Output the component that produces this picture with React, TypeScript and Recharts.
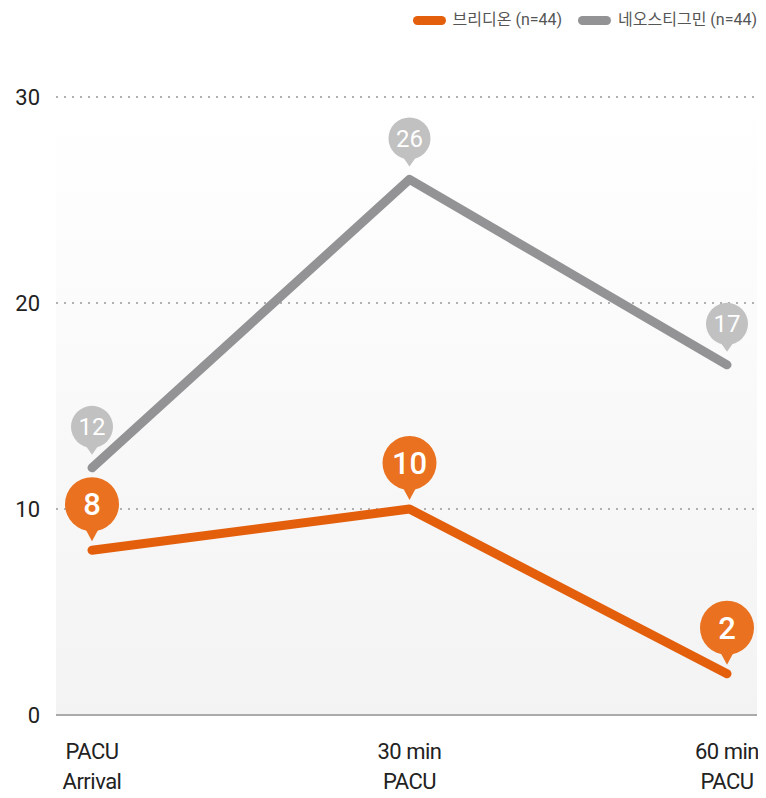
import {
  LineChart,
  Line,
  XAxis,
  YAxis,
  CartesianGrid,
  LabelList,
} from 'recharts'

const categories = ['PACU\nArrival', '30 min\nPACU', '60 min\nPACU']
const bridionValues = [8, 10, 2]
const neostigmineValues = [12, 26, 17]
const yTicks = [0, 10, 20, 30]

const ORANGE = '#e35f0c'
const ORANGE_PIN = '#e9711f'
const GRAY = '#939396'
const GRAY_PIN = '#c1c1c1'
const FONT = 'Roboto, "Noto Sans CJK KR", sans-serif'

const data = categories.map((name, i) => ({
  name,
  bridion: bridionValues[i],
  neo: neostigmineValues[i],
}))

const legendItems = [
  { label: '브리디온 (n=44)', color: ORANGE },
  { label: '네오스티그민 (n=44)', color: GRAY },
]

function LegendBox() {
  return (
    <div
      style={{
        position: 'absolute',
        top: 10,
        right: 9,
        display: 'flex',
        gap: 16,
        fontFamily: FONT,
        fontSize: 16,
        color: '#555',
        lineHeight: '20px',
      }}
    >
      {legendItems.map(item => (
        <div key={item.label} style={{ display: 'flex', alignItems: 'center', gap: 7 }}>
          <span style={{ display: 'inline-block', width: 33, height: 9, borderRadius: 5, background: item.color }} />
          <span>{item.label}</span>
        </div>
      ))}
    </div>
  )
}

function XTick(props: any) {
  const { x, y, payload } = props
  const lines = String(payload.value).split('\n')
  return (
    <text x={x} y={y} textAnchor="middle" fill="#222" fontSize={22} fontFamily={FONT} style={{ letterSpacing: -0.5 }}>
      {lines.map((l, i) => (
        <tspan key={i} x={x} dy={i === 0 ? 36 : 30}>{l}</tspan>
      ))}
    </text>
  )
}

function pin(big: boolean) {
  return (props: any) => {
    const { x, y, value } = props
    const r = big ? 27 : 21
    const cy = y - (big ? 46 : 41)
    const tip = y - (big ? 9 : 13)
    const color = big ? ORANGE_PIN : GRAY_PIN
    return (
      <g>
        <path d={`M${x - 7},${cy + r - 3} L${x},${tip} L${x + 7},${cy + r - 3} Z`} fill={color} />
        <circle cx={x} cy={cy} r={r} fill={color} />
        <text
          x={x}
          y={cy}
          dy="0.36em"
          textAnchor="middle"
          fill="#fff"
          fontFamily={FONT}
          fontSize={big ? 31 : 24}
          fontWeight={big ? 500 : 400}
        >
          {value}
        </text>
      </g>
    )
  }
}

export default function App() {
  return (
    <div style={{ margin: -8, width: 766, height: 798, background: '#fff', position: 'relative' }}>
      <LegendBox />
      <LineChart width={766} height={798} data={data} margin={{ top: 97, right: 9, left: 0, bottom: 0 }}>
        <defs>
          <linearGradient id="bgGrad" x1="0" y1="0" x2="0" y2="1">
            <stop offset="0%" stopColor="#ffffff" />
            <stop offset="100%" stopColor="#f3f3f3" />
          </linearGradient>
        </defs>
        <CartesianGrid
          vertical={false}
          fill="url(#bgGrad)"
          stroke="#b0b0b0"
          strokeWidth={2}
          strokeDasharray="2 6"
        />
        <XAxis
          dataKey="name"
          height={83}
          padding={{ left: 36, right: 30 }}
          axisLine={{ stroke: '#aaa', strokeWidth: 2 }}
          tickLine={false}
          tick={<XTick />}
          interval={0}
        />
        <YAxis
          width={56}
          domain={[0, 30]}
          ticks={yTicks}
          axisLine={false}
          tickLine={false}
          tick={{ fontSize: 22, fill: '#222', fontFamily: FONT }}
          tickMargin={10}
        />
        <Line
          type="linear"
          dataKey="neo"
          stroke={GRAY}
          strokeWidth={9}
          strokeLinecap="round"
          strokeLinejoin="round"
          dot={false}
          activeDot={false}
          isAnimationActive={false}
        >
          <LabelList dataKey="neo" content={pin(false)} />
        </Line>
        <Line
          type="linear"
          dataKey="bridion"
          stroke={ORANGE}
          strokeWidth={9}
          strokeLinecap="round"
          strokeLinejoin="round"
          dot={false}
          activeDot={false}
          isAnimationActive={false}
        >
          <LabelList dataKey="bridion" content={pin(true)} />
        </Line>
      </LineChart>
    </div>
  )
}
